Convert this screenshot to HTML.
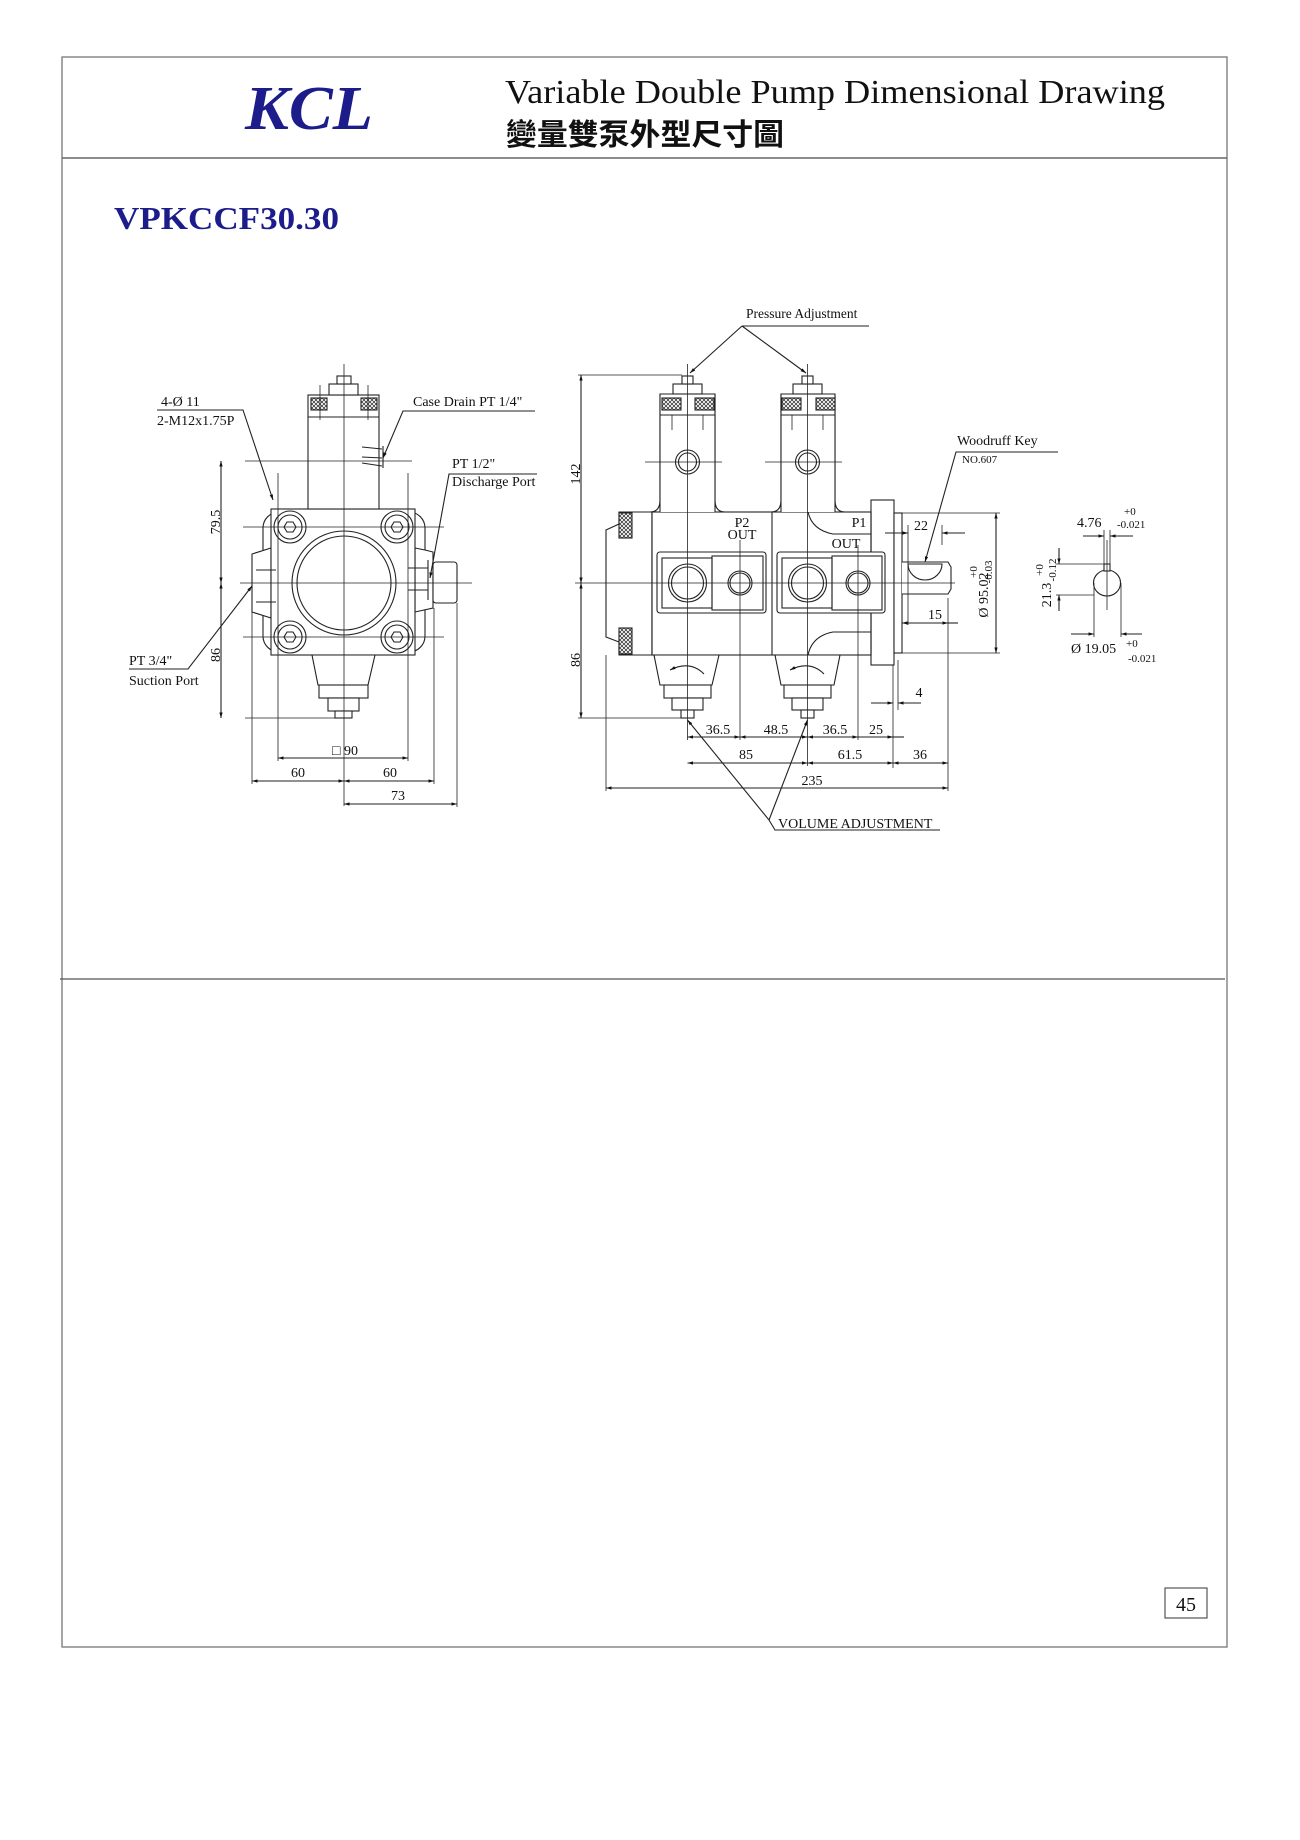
<!DOCTYPE html>
<html><head><meta charset="utf-8"><style>
html,body{margin:0;padding:0;background:#fff}
svg{display:block}
text{font-family:"Liberation Serif","Noto Serif CJK SC",serif;fill:#111}
</style></head><body>
<svg width="1300" height="1840" viewBox="0 0 1300 1840" xmlns="http://www.w3.org/2000/svg">
<defs>
<marker id="a" viewBox="0 0 10 10" refX="10" refY="5" markerWidth="10" markerHeight="5" orient="auto-start-reverse"><path d="M0,2 L10,5 L0,8z" fill="#111"/></marker>
<pattern id="k" width="4" height="4" patternUnits="userSpaceOnUse"><path d="M0,0L4,4M4,0L0,4" stroke="#222" stroke-width="0.7"/></pattern>
</defs>
<!-- page frame -->
<rect x="62" y="57" width="1165" height="1590" fill="none" stroke="#777" stroke-width="1.3"/>
<line x1="62" y1="158" x2="1227" y2="158" stroke="#666" stroke-width="1.5"/>
<line x1="60" y1="979" x2="1225" y2="979" stroke="#555" stroke-width="1.2"/>
<rect x="1165" y="1588" width="42" height="30" fill="none" stroke="#333" stroke-width="1"/>
<text x="1186" y="1611" font-size="20" text-anchor="middle">45</text>
<text x="245" y="129" font-size="62" font-weight="bold" font-style="italic" style="fill:#1c1c8a" textLength="128" lengthAdjust="spacingAndGlyphs">KCL</text>
<text x="505" y="103" font-size="34" textLength="660" lengthAdjust="spacingAndGlyphs">Variable Double Pump Dimensional Drawing</text>
<text x="506" y="145" font-size="30" font-weight="bold" style='font-family:"Noto Sans CJK TC",sans-serif' textLength="278" lengthAdjust="spacingAndGlyphs">變量雙泵外型尺寸圖</text>
<text x="114" y="229" font-size="32" font-weight="bold" style="fill:#1c1c8a" textLength="225" lengthAdjust="spacingAndGlyphs">VPKCCF30.30</text>

<g stroke="#222" stroke-width="1.1" fill="none">
<!-- ===== LEFT VIEW ===== -->
<rect x="263" y="512" width="162" height="140" rx="16" fill="#fff"/>
<path d="M252,554 L271,548 L271,618 L252,612 Z" fill="#fff"/>
<path d="M425,550 L415,548 L415,612 L433,608 L433,552Z" fill="#fff"/>
<rect x="433" y="562" width="24" height="41" rx="3" fill="#fff"/>
<rect x="271" y="509" width="144" height="146" fill="#fff"/>
<circle cx="344" cy="583" r="52"/><circle cx="344" cy="583" r="47"/>
<g>
<circle cx="290" cy="527" r="12"/><circle cx="397" cy="527" r="12"/><circle cx="290" cy="637" r="12"/><circle cx="397" cy="637" r="12"/>
<circle cx="290" cy="527" r="16"/><circle cx="397" cy="527" r="16"/><circle cx="290" cy="637" r="16"/><circle cx="397" cy="637" r="16"/>
<polygon points="296,527 293,532 287,532 284,527 287,522 293,522"/>
<polygon points="403,527 400,532 394,532 391,527 394,522 400,522"/>
<polygon points="296,637 293,642 287,642 284,637 287,632 293,632"/>
<polygon points="403,637 400,642 394,642 391,637 394,632 400,632"/>
</g>
<rect x="308" y="395" width="71" height="114" fill="#fff"/>
<rect x="311" y="398" width="16" height="12" fill="url(#k)"/><rect x="361" y="398" width="16" height="12" fill="url(#k)"/>
<line x1="308" y1="417" x2="379" y2="417"/>
<rect x="329" y="384" width="29" height="11" fill="#fff"/><rect x="337" y="376" width="14" height="8" fill="#fff"/>
<path d="M312,655 L375,655 L368,685 L318,685Z" fill="#fff"/>
<rect x="319" y="685" width="49" height="13" fill="#fff"/><rect x="328" y="698" width="31" height="13" fill="#fff"/><rect x="335" y="711" width="17" height="7" fill="#fff"/>
<path d="M362,447 L382,449 M362,457 L382,458 M362,463 L382,466 M383,446 L383,468"/>
<path d="M408,568 L428,568 M408,590 L428,590 M428,560 L428,600"/>
<path d="M256,570 L276,570 M256,602 L276,602"/>
<g stroke-width="0.8">
<line x1="344" y1="364" x2="344" y2="806"/>
<line x1="240" y1="583" x2="472" y2="583"/>
<line x1="245" y1="461" x2="412" y2="461"/>
<line x1="245" y1="718" x2="340" y2="718"/>
<line x1="278" y1="473" x2="278" y2="761"/><line x1="408" y1="473" x2="408" y2="761"/>
<line x1="252" y1="612" x2="252" y2="784"/><line x1="434" y1="608" x2="434" y2="784"/>
<line x1="457" y1="603" x2="457" y2="807"/>
<line x1="243" y1="527" x2="444" y2="527"/><line x1="243" y1="637" x2="444" y2="637"/>
<line x1="320" y1="385" x2="320" y2="420"/><line x1="368" y1="385" x2="368" y2="420"/>
</g>
<line x1="221" y1="461" x2="221" y2="583" marker-start="url(#a)" marker-end="url(#a)"/>
<line x1="221" y1="583" x2="221" y2="718" marker-start="url(#a)" marker-end="url(#a)"/>
<line x1="278" y1="758" x2="408" y2="758" marker-start="url(#a)" marker-end="url(#a)"/>
<line x1="252" y1="781" x2="344" y2="781" marker-start="url(#a)" marker-end="url(#a)"/>
<line x1="344" y1="781" x2="434" y2="781" marker-start="url(#a)" marker-end="url(#a)"/>
<line x1="344" y1="804" x2="457" y2="804" marker-start="url(#a)" marker-end="url(#a)"/>
<polyline points="157,410 243,410 273,500" marker-end="url(#a)"/>
<polyline points="535,411 403,411 383,458" marker-end="url(#a)"/>
<polyline points="537,474 449,474 430,578" marker-end="url(#a)"/>
<polyline points="129,669 188,669 252,586" marker-end="url(#a)"/>

<!-- ===== RIGHT VIEW ===== -->
<path d="M606,530 L619,524 L619,512 L652,512 L652,655 L619,655 L619,642 L606,637 Z" fill="#fff"/>
<rect x="619" y="513" width="13" height="25" fill="url(#k)"/><rect x="619" y="628" width="13" height="26" fill="url(#k)"/>
<rect x="871" y="500" width="23" height="165" fill="#fff"/>
<rect x="894" y="513" width="8" height="140" fill="#fff"/>
<path d="M902,562 L948,562 L951,567 L951,589 L948,594 L902,594" fill="#fff"/>
<path d="M908,564 A17,16 0 0 0 942,564 Z"/>
<path d="M660,394 L660,500 Q660,512 650,512 L871,512 L871,655 L652,655 L652,512 M715,394 L715,500 Q715,512 725,512 M781,394 L781,500 Q781,512 771,512 M835,394 L835,500 Q835,512 845,512" fill="#fff"/>
<rect x="652" y="512" width="219" height="143" fill="none"/>
<rect x="660" y="394" width="55" height="118" fill="#fff" stroke="none"/>
<rect x="781" y="394" width="54" height="118" fill="#fff" stroke="none"/>
<path d="M660,512 L660,394 L715,394 L715,512 M781,512 L781,394 L835,394 L835,512"/>
<line x1="772" y1="512" x2="772" y2="655"/>
<path d="M808,512 Q812,530 833,534 L871,534 M808,655 Q812,636 833,632 L871,632"/>
<rect x="662" y="398" width="19" height="12" fill="url(#k)"/><rect x="695" y="398" width="19" height="12" fill="url(#k)"/>
<rect x="782" y="398" width="19" height="12" fill="url(#k)"/><rect x="816" y="398" width="19" height="12" fill="url(#k)"/>
<line x1="660" y1="415" x2="715" y2="415"/><line x1="781" y1="415" x2="835" y2="415"/>
<rect x="673" y="384" width="29" height="10" fill="#fff"/><rect x="682" y="376" width="11" height="8" fill="#fff"/>
<rect x="793" y="384" width="29" height="10" fill="#fff"/><rect x="802" y="376" width="11" height="8" fill="#fff"/>
<circle cx="687.5" cy="462" r="12"/><circle cx="687.5" cy="462" r="9"/>
<circle cx="807.5" cy="462" r="12"/><circle cx="807.5" cy="462" r="9"/>
<rect x="657" y="552" width="109" height="61" rx="3" fill="#fff"/>
<rect x="662" y="558" width="50" height="50"/><rect x="712" y="556" width="51" height="54"/>
<circle cx="687.5" cy="583" r="19"/><circle cx="687.5" cy="583" r="16"/><circle cx="740" cy="583" r="12"/><circle cx="740" cy="583" r="10"/>
<rect x="777" y="552" width="108" height="61" rx="3" fill="#fff"/>
<rect x="782" y="558" width="50" height="50"/><rect x="832" y="556" width="50" height="54"/>
<circle cx="807.5" cy="583" r="19"/><circle cx="807.5" cy="583" r="16"/><circle cx="858" cy="583" r="12"/><circle cx="858" cy="583" r="10"/>
<path d="M654,655 L719,655 L712,685 L660,685Z" fill="#fff"/>
<rect x="664" y="685" width="47" height="13" fill="#fff"/><rect x="672" y="698" width="31" height="12" fill="#fff"/><rect x="681" y="710" width="13" height="8" fill="#fff"/>
<path d="M775,655 L840,655 L834,685 L781,685Z" fill="#fff"/>
<rect x="784" y="685" width="47" height="13" fill="#fff"/><rect x="792" y="698" width="31" height="12" fill="#fff"/><rect x="801" y="710" width="13" height="8" fill="#fff"/>
<path d="M670,670 Q690,660 704,674" marker-start="url(#a)"/>
<path d="M790,670 Q810,660 824,674" marker-start="url(#a)"/>
<g stroke-width="0.8">
<line x1="687.5" y1="364" x2="687.5" y2="740"/><line x1="807.5" y1="364" x2="807.5" y2="766"/>
<line x1="575" y1="583" x2="955" y2="583"/>
<line x1="578" y1="375" x2="682" y2="375"/><line x1="578" y1="718" x2="682" y2="718"/>
<line x1="740" y1="540" x2="740" y2="740"/><line x1="858" y1="545" x2="858" y2="740"/>
<line x1="606" y1="655" x2="606" y2="791"/><line x1="948" y1="598" x2="948" y2="791"/>
<line x1="893" y1="665" x2="893" y2="768"/><line x1="898" y1="660" x2="898" y2="710"/>
<line x1="908" y1="525" x2="908" y2="625"/><line x1="942" y1="525" x2="942" y2="545"/>
<line x1="902" y1="513" x2="1000" y2="513"/><line x1="902" y1="653" x2="1000" y2="653"/>
<line x1="645" y1="462" x2="722" y2="462"/><line x1="765" y1="462" x2="842" y2="462"/>
<line x1="672" y1="415" x2="672" y2="430"/><line x1="703" y1="415" x2="703" y2="430"/>
<line x1="792" y1="415" x2="792" y2="430"/><line x1="823" y1="415" x2="823" y2="430"/>
</g>
<line x1="581" y1="375" x2="581" y2="583" marker-start="url(#a)" marker-end="url(#a)"/>
<line x1="581" y1="583" x2="581" y2="718" marker-start="url(#a)" marker-end="url(#a)"/>
<line x1="687.5" y1="737" x2="740" y2="737" marker-start="url(#a)" marker-end="url(#a)"/>
<line x1="740" y1="737" x2="807.5" y2="737" marker-start="url(#a)" marker-end="url(#a)"/>
<line x1="807.5" y1="737" x2="858" y2="737" marker-start="url(#a)" marker-end="url(#a)"/>
<line x1="858" y1="737" x2="893" y2="737" marker-end="url(#a)"/>
<line x1="893" y1="737" x2="904" y2="737"/>
<line x1="687.5" y1="763" x2="807.5" y2="763" marker-start="url(#a)" marker-end="url(#a)"/>
<line x1="807.5" y1="763" x2="893" y2="763" marker-start="url(#a)" marker-end="url(#a)"/>
<line x1="893" y1="763" x2="948" y2="763" marker-start="url(#a)" marker-end="url(#a)"/>
<line x1="606" y1="788" x2="948" y2="788" marker-start="url(#a)" marker-end="url(#a)"/>
<line x1="871" y1="703" x2="893" y2="703" marker-end="url(#a)"/>
<line x1="921" y1="703" x2="898" y2="703" marker-end="url(#a)"/>
<line x1="885" y1="533" x2="908" y2="533" marker-end="url(#a)"/>
<line x1="965" y1="533" x2="942" y2="533" marker-end="url(#a)"/>
<line x1="902" y1="623" x2="948" y2="623" marker-start="url(#a)" marker-end="url(#a)"/>
<line x1="948" y1="623" x2="958" y2="623"/>
<line x1="996" y1="513" x2="996" y2="653" marker-start="url(#a)" marker-end="url(#a)"/>
<line x1="742" y1="326" x2="869" y2="326"/>
<line x1="742" y1="326" x2="690" y2="373" marker-end="url(#a)"/>
<line x1="742" y1="326" x2="806" y2="373" marker-end="url(#a)"/>
<polyline points="1058,452 956,452 925,562" marker-end="url(#a)"/>
<line x1="769" y1="820" x2="687.5" y2="720" marker-end="url(#a)"/>
<line x1="769" y1="820" x2="807.5" y2="720" marker-end="url(#a)"/>
<polyline points="769,820 775,830 940,830"/>

<ellipse cx="1107" cy="583" rx="13.5" ry="13"/>
<rect x="1104" y="564" width="6" height="7" fill="#fff"/>
<g stroke-width="0.8">
<line x1="1107" y1="540" x2="1107" y2="610"/>
<line x1="1104" y1="530" x2="1104" y2="564"/><line x1="1110" y1="530" x2="1110" y2="564"/>
<line x1="1056" y1="564" x2="1106" y2="564"/><line x1="1056" y1="595" x2="1094" y2="595"/>
<line x1="1094" y1="583" x2="1094" y2="637"/><line x1="1121" y1="583" x2="1121" y2="637"/>
</g>
<line x1="1083" y1="536" x2="1104" y2="536" marker-end="url(#a)"/>
<line x1="1133" y1="536" x2="1110" y2="536" marker-end="url(#a)"/>
<line x1="1059" y1="548" x2="1059" y2="564" marker-end="url(#a)"/>
<line x1="1059" y1="611" x2="1059" y2="595" marker-end="url(#a)"/>
<line x1="1071" y1="634" x2="1094" y2="634" marker-end="url(#a)"/>
<line x1="1142" y1="634" x2="1121" y2="634" marker-end="url(#a)"/>
</g>

<g font-size="14">
<text x="161" y="406">4-Ø 11</text>
<text x="157" y="425">2-M12x1.75P</text>
<text x="413" y="406">Case Drain PT 1/4"</text>
<text x="452" y="468">PT 1/2"</text>
<text x="452" y="486">Discharge Port</text>
<text x="129" y="665">PT 3/4"</text>
<text x="129" y="685">Suction Port</text>
<text x="220" y="522" transform="rotate(-90 220 522)" text-anchor="middle">79.5</text>
<text x="220" y="655" transform="rotate(-90 220 655)" text-anchor="middle">86</text>
<text x="345" y="755" text-anchor="middle">□ 90</text>
<text x="298" y="777" text-anchor="middle">60</text>
<text x="390" y="777" text-anchor="middle">60</text>
<text x="398" y="800" text-anchor="middle">73</text>

<text x="746" y="318" font-size="13.5">Pressure Adjustment</text>
<text x="580" y="474" transform="rotate(-90 580 474)" text-anchor="middle">142</text>
<text x="580" y="660" transform="rotate(-90 580 660)" text-anchor="middle">86</text>
<text x="742" y="527" text-anchor="middle">P2</text>
<text x="742" y="539" text-anchor="middle">OUT</text>
<text x="859" y="527" text-anchor="middle">P1</text>
<text x="846" y="548" text-anchor="middle">OUT</text>
<text x="718" y="734" text-anchor="middle">36.5</text>
<text x="776" y="734" text-anchor="middle">48.5</text>
<text x="835" y="734" text-anchor="middle">36.5</text>
<text x="876" y="734" text-anchor="middle">25</text>
<text x="746" y="759" text-anchor="middle">85</text>
<text x="850" y="759" text-anchor="middle">61.5</text>
<text x="920" y="759" text-anchor="middle">36</text>
<text x="812" y="785" text-anchor="middle">235</text>
<text x="919" y="697" text-anchor="middle">4</text>
<text x="921" y="530" text-anchor="middle">22</text>
<text x="935" y="619" text-anchor="middle">15</text>
<text x="988" y="595" transform="rotate(-90 988 595)" text-anchor="middle">Ø 95.02</text>
<text x="977" y="572" font-size="11" transform="rotate(-90 977 572)" text-anchor="middle">+0</text>
<text x="992" y="572" font-size="11" transform="rotate(-90 992 572)" text-anchor="middle">-0.03</text>
<text x="957" y="445">Woodruff Key</text>
<text x="962" y="463" font-size="11">NO.607</text>
<text x="778" y="828">VOLUME ADJUSTMENT</text>
<text x="1077" y="527">4.76</text>
<text x="1124" y="515" font-size="11">+0</text>
<text x="1117" y="528" font-size="11">-0.021</text>
<text x="1051" y="595" transform="rotate(-90 1051 595)" text-anchor="middle">21.3</text>
<text x="1043" y="570" font-size="11" transform="rotate(-90 1043 570)" text-anchor="middle">+0</text>
<text x="1056" y="570" font-size="11" transform="rotate(-90 1056 570)" text-anchor="middle">-0.12</text>
<text x="1071" y="653">Ø 19.05</text>
<text x="1126" y="647" font-size="11">+0</text>
<text x="1128" y="662" font-size="11">-0.021</text>
</g>
</svg>
</body></html>
